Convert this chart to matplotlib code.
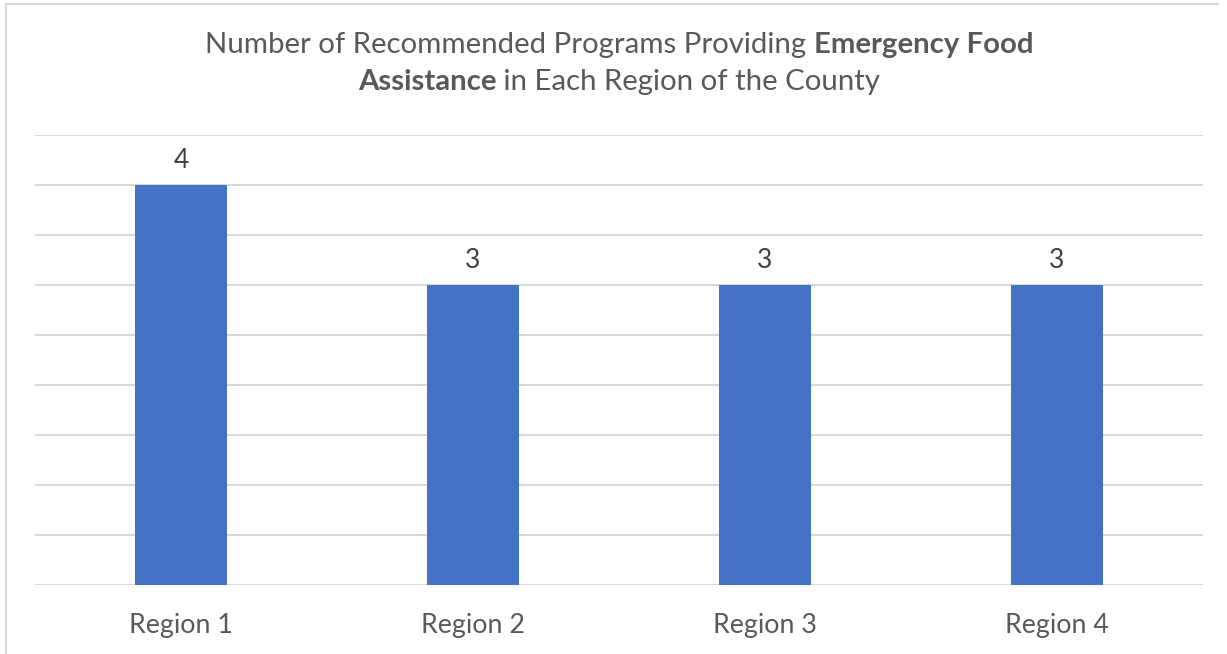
import matplotlib
matplotlib.use("Agg")
import matplotlib.pyplot as plt
from matplotlib.lines import Line2D

regions = ["Region 1", "Region 2", "Region 3", "Region 4"]
programs = [4, 3, 3, 3]

title_line1 = [("Number of Recommended Programs Providing ", "normal"), ("Emergency Food", "bold")]
title_line2 = [("Assistance", "bold"), (" in Each Region of the County", "normal")]

BAR_COLOR = "#4472C4"
GRID_COLOR = "#D9D9D9"
TEXT_GRAY = "#595959"
FONT = "Lato"

W, H = 1227, 654
fig = plt.figure(figsize=(W / 100, H / 100), dpi=100)
ax = fig.add_axes([35 / W, 69 / H, 1168 / W, 450 / H])

x = range(len(regions))
bars = ax.bar(x, programs, width=0.315, color=BAR_COLOR, zorder=3)
ax.bar_label(bars, labels=[str(v) for v in programs], padding=9,
             fontsize=19, color="#404040", family=FONT)

ax.set_xlim(-0.5, len(regions) - 0.5)
ax.set_ylim(0, 4.5)
ax.set_yticks([i * 0.5 for i in range(10)])
ax.yaxis.grid(True, color=GRID_COLOR, linewidth=1.5)
ax.tick_params(axis="y", left=False, labelleft=False)
ax.tick_params(axis="x", length=0, pad=20)
ax.set_xticks(list(x))
ax.set_xticklabels(regions, fontsize=19.3, color=TEXT_GRAY, family=FONT)
for s in ax.spines.values():
    s.set_visible(False)

# chart border (top and left visible in the crop)
fig.add_artist(Line2D([6 / W, 1218 / W], [1 - 4 / H, 1 - 4 / H], color=GRID_COLOR, lw=1.5))
fig.add_artist(Line2D([6 / W, 6 / W], [0, 1 - 4 / H], color=GRID_COLOR, lw=1.5))

# title with mixed weights
renderer = fig.canvas.get_renderer()


def draw_line(parts, cx, y):
    texts = [fig.text(0, y, s, fontsize=21.2, color=TEXT_GRAY, family=FONT,
                      fontweight=w, va="center") for s, w in parts]
    widths = [t.get_window_extent(renderer).width for t in texts]
    left = cx - sum(widths) / 2
    for t, wd in zip(texts, widths):
        t.set_x(left / W)
        left += wd


draw_line(title_line1, 619, 1 - 45 / H)
draw_line(title_line2, 619, 1 - 82 / H)

fig.savefig("out.png", dpi=100)
